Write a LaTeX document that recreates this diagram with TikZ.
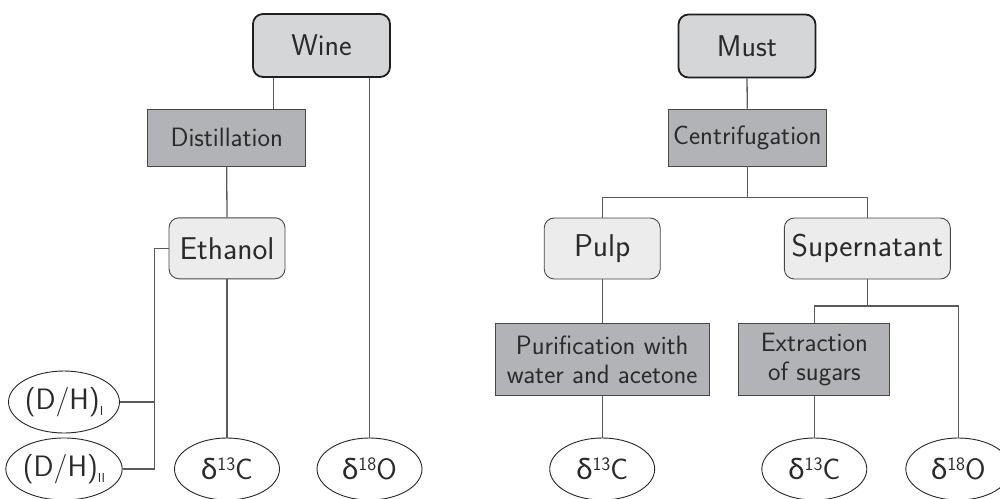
\documentclass[tikz,border=0pt]{standalone}
\usepackage{fontspec}
\newfontfamily\grk{Lato}
\usetikzlibrary{shapes.geometric}
\definecolor{topfill}{HTML}{D5D6D8}
\definecolor{procfill}{HTML}{B1B3B6}
\definecolor{midfill}{HTML}{ECECEC}
\definecolor{linec}{HTML}{5A5A5A}
\definecolor{textc}{HTML}{2A2A2A}
\newcommand\iso[2]{{\grk δ}\raisebox{0.72ex}{\fontsize{19}{19}\selectfont #1}#2}
\newcommand\lowsub[1]{\raisebox{-0.5ex}{\fontsize{13}{13}\selectfont #1}}
\begin{document}
\begin{tikzpicture}[x=1pt,y=-1pt,
  topbox/.style={draw=black!88, line width=1.8pt, rounded corners=10pt, fill=topfill,
    inner sep=0pt, minimum width=137pt, minimum height=63pt,
    font=\fontsize{30}{34}\selectfont\sffamily, text=textc},
  procbox/.style={draw=black!72, line width=0.9pt, fill=procfill, inner sep=0pt,
    minimum height=57pt, font=\fontsize{26.5}{29}\selectfont\sffamily, text=textc, align=center},
  midbox/.style={draw=black!72, line width=0.9pt, rounded corners=10pt, fill=midfill,
    inner sep=0pt, minimum height=61pt, font=\fontsize{31.5}{36}\selectfont\sffamily, text=textc},
  meas/.style={ellipse, draw=black!85, line width=0.9pt, fill=white, inner sep=0pt,
    minimum width=105pt, minimum height=62pt, font=\fontsize{29.5}{34}\selectfont\sffamily, text=textc},
  conn/.style={draw=linec, line width=1.3pt}]
\useasboundingbox (0,0) rectangle (1000,498);

% left tree
\node[topbox] (wine) at (321.5,45.5) {Wine};
\node[procbox, minimum width=158pt] (dist) at (226.7,137.5) {Distillation};
\node[midbox, minimum width=116pt] (eth) at (227,248.3) {Ethanol};
\node[meas] (dh1) at (64,402) {(D/H)\lowsub{I}};
\node[meas] (dh2) at (64,469) {(D/H)\lowsub{II}};
\node[meas] (c13a) at (227,469) {\iso{13}{C}};
\node[meas] (o18a) at (369.5,469) {\iso{18}{O}};
\coordinate (br) at (154.5,300);

\draw[conn] ([xshift=-48pt]wine.south) -- ([xshift=-48pt]wine.south |- dist.north);
\draw[conn] (o18a.north |- wine.south) -- (o18a.north);
\draw[conn] (dist.south) -- (eth.north);
\draw[conn] (eth.south) -- (c13a.north);
\draw[conn] (eth.west) -| (br |- dh2.east) -- (dh2.east);
\draw[conn] (dh1.east) -- (br |- dh1.east);

% right tree
\node[topbox] (must) at (747,46) {Must};
\node[procbox, minimum width=158pt] (cent) at (747.3,137.5) {Centrifugation};
\node[midbox, minimum width=116pt] (pulp) at (602.2,248.5) {Pulp};
\node[midbox, minimum width=166pt] (sup) at (867.3,248.5) {Supernatant};
\node[procbox, minimum width=214pt, minimum height=72pt] (pur) at (602.2,359.5) {Purification with\\water and acetone};
\node[procbox, minimum width=151pt, minimum height=72pt] (ext) at (814.3,359.5) {Extraction\\of sugars};
\node[meas] (c13b) at (602.2,469) {\iso{13}{C}};
\node[meas] (c13c) at (814.3,469) {\iso{13}{C}};
\node[meas] (o18b) at (958.3,469) {\iso{18}{O}};
\coordinate (j1) at (747.3,197.3);
\coordinate (j2) at (867.3,306);

\draw[conn] (must.south) -- (cent.north);
\draw[conn] (cent.south) -- (j1);
\draw[conn] (pulp.north) |- (j1) -| (sup.north);
\draw[conn] (pulp.south) -- (pur.north);
\draw[conn] (pur.south) -- (c13b.north);
\draw[conn] (sup.south) -- (j2);
\draw[conn] (ext.north) |- (j2) -| (o18b.north);
\draw[conn] (ext.south) -- (c13c.north);
\end{tikzpicture}
\end{document}
